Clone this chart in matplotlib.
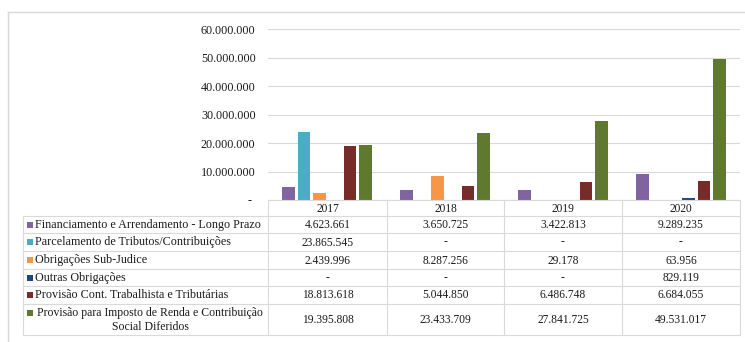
import matplotlib
matplotlib.use('Agg')
import matplotlib.pyplot as plt
from matplotlib.patches import Rectangle
from matplotlib.ticker import FuncFormatter

# Dados (R$)
years = ['2017', '2018', '2019', '2020']
series_names = [
    'Financiamento e Arrendamento - Longo Prazo',
    'Parcelamento de Tributos/Contribuições',
    'Obrigações Sub-Judice',
    'Outras Obrigações',
    'Provisão Cont. Trabalhista e Tributárias',
    'Provisão para Imposto de Renda e Contribuição\nSocial Diferidos',
]
financiamento = [4623661, 3650725, 3422813, 9289235]
parcelamento = [23865545, 0, 0, 0]
sub_judice = [2439996, 8287256, 29178, 63956]
outras = [0, 0, 0, 829119]
provisao_cont = [18813618, 5044850, 6486748, 6684055]
provisao_ir = [19395808, 23433709, 27841725, 49531017]
series_values = [financiamento, parcelamento, sub_judice, outras, provisao_cont, provisao_ir]
colors = ['#8064A2', '#4BACC6', '#F79646', '#1F497D', '#772C2A', '#5F7A2E']

W, H = 745, 342
grid_c = '#d9d9d9'
txt_c = '#1a1a1a'
plt.rcParams['font.family'] = ['Liberation Serif', 'DejaVu Serif']

fig = plt.figure(figsize=(W / 100, H / 100), dpi=100)

# plot area in pixels
px_l, px_r, px_top, px_base = 268, 740, 29.3, 200
ax = fig.add_axes([px_l / W, (H - px_base) / H, (px_r - px_l) / W, (px_base - px_top) / H])
ax.set_xlim(-0.5, len(years) - 0.5)
ax.set_ylim(0, 60e6)
ax.set_yticks(range(0, 60000001, 10000000))


def fmt_num(v, pos=None):
    if v == 0:
        return '- '
    return f'{int(round(v)):,}'.replace(',', '.')


ax.yaxis.set_major_formatter(FuncFormatter(fmt_num))
ax.tick_params(axis='y', length=0, pad=9, labelsize=8.7, labelcolor=txt_c)
ax.set_xticks([])
for s in ax.spines.values():
    s.set_visible(False)
ax.grid(axis='y', color=grid_c, lw=0.8)
ax.set_axisbelow(True)

step, bw = 0.13, 0.108
n = len(series_values)
for i, (vals, c) in enumerate(zip(series_values, colors)):
    xs = [k + (i - (n - 1) / 2) * step for k in range(len(years))]
    ax.bar(xs, vals, width=bw, color=c, edgecolor='none', zorder=3)

# data table and chart frame, drawn in pixel coordinates
ov = fig.add_axes([0, 0, 1, 1], zorder=5)
ov.set_xlim(0, W)
ov.set_ylim(H, 0)
ov.axis('off')
ov.patch.set_alpha(0)

# outer chart border
ov.plot([8, W], [12, 12], color=grid_c, lw=1)
ov.plot([8, 8], [12, H], color=grid_c, lw=1)

tab_l = 23
col_x = [268, 387, 504, 622, 740]
row_y = [216, 233, 251, 269, 286, 304, 335]
lw_t = 0.8

ov.plot([col_x[0], col_x[-1]], [px_base, px_base], color=grid_c, lw=lw_t)
for y in row_y:
    ov.plot([tab_l, col_x[-1]], [y, y], color=grid_c, lw=lw_t)
ov.plot([tab_l, tab_l], [row_y[0], row_y[-1]], color=grid_c, lw=lw_t)
for x in col_x:
    ov.plot([x, x], [px_base, row_y[-1]], color=grid_c, lw=lw_t)

# year header
for j, yr in enumerate(years):
    cx = (col_x[j] + col_x[j + 1]) / 2
    ov.text(cx, (px_base + row_y[0]) / 2 + 0.5, yr, ha='center', va='center',
            fontsize=8.3, color=txt_c)

# rows: legend key, label and values
for i, (name, vals, c) in enumerate(zip(series_names, series_values, colors)):
    y0, y1 = row_y[i], row_y[i + 1]
    cy = (y0 + y1) / 2
    if '\n' in name:
        key_y = y0 + 8.5
        ov.text(150, cy + 0.5, name, ha='center', va='center', multialignment='center',
                fontsize=8.5, color=txt_c, linespacing=1.15)
    else:
        key_y = cy
        ov.text(35, cy + 0.5, name, ha='left', va='center', fontsize=8.7, color=txt_c)
    ov.add_patch(Rectangle((26.5, key_y - 3), 6, 6, facecolor=c, edgecolor='none'))
    for j, v in enumerate(vals):
        cx = (col_x[j] + col_x[j + 1]) / 2
        ov.text(cx, cy + 0.5, fmt_num(v).strip(), ha='center', va='center',
                fontsize=8.3, color=txt_c)

fig.savefig('out.png', dpi=100, facecolor='white')
plt.close(fig)
